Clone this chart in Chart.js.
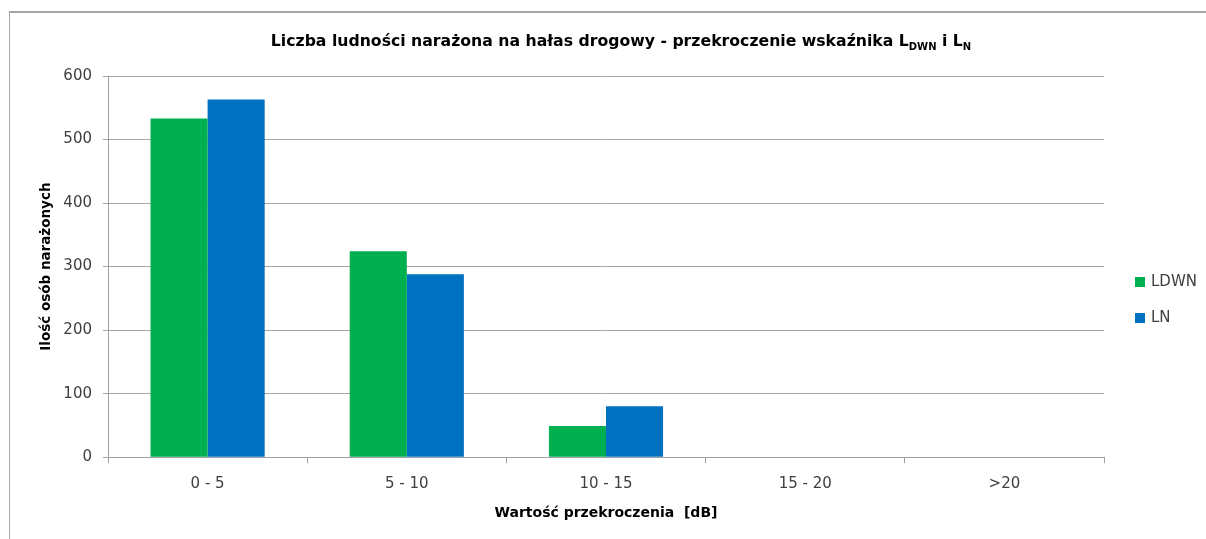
<!DOCTYPE html>
<html lang="pl">
<head>
<meta charset="utf-8">
<title>Liczba ludności narażona na hałas drogowy</title>
<script src="https://cdn.jsdelivr.net/npm/chart.js@4/dist/chart.umd.min.js"></script>
<style>
  html, body { margin: 0; padding: 0; background: #fff; }
  #wrap { position: relative; width: 1206px; height: 539px; overflow: hidden; }
  #frame { position: absolute; left: 9px; top: 11px; right: -5px; bottom: -5px;
           border-top: 2px solid #a6a6a6; border-left: 1px solid #a6a6a6; }
  #wykres { position: absolute; left: 0; top: 0; }
</style>
</head>
<body>
<div id="wrap">
  <div id="frame"></div>
  <canvas id="wykres" width="1206" height="539"></canvas>
</div>
<script>
// Dane wykresu
const kategorie = ['0 - 5', '5 - 10', '10 - 15', '15 - 20', '>20'];
const wartosciLDWN = [533, 324, 49, 0, 0];
const wartosciLN = [563, 288, 80, 0, 0];
const osY = { min: 0, max: 600, krok: 100 };

const FONT = '"DejaVu Sans", Verdana, sans-serif';

// Tytuł z indeksami dolnymi (L_DWN, L_N)
const tytulPlugin = {
    id: 'tytulZIndeksami',
    afterDraw(chart) {
        const c = chart.ctx;
        const czesci = [
            { t: 'Liczba ludności narażona na hałas drogowy - przekroczenie wskaźnika L' },
            { t: 'DWN', sub: true },
            { t: ' i L' },
            { t: 'N', sub: true }
        ];
        const fNorm = 'bold 15.7px ' + FONT;
        const fSub = 'bold 10px ' + FONT;
        c.save();
        let szer = 0;
        czesci.forEach(p => { c.font = p.sub ? fSub : fNorm; szer += c.measureText(p.t).width; });
        let x = 621 - szer / 2;
        const y = 42;
        c.fillStyle = '#000';
        c.textBaseline = 'middle';
        czesci.forEach(p => {
            c.font = p.sub ? fSub : fNorm;
            c.fillText(p.t, x, p.sub ? y + 5 : y);
            x += c.measureText(p.t).width;
        });
        c.restore();
    }
};

// Legenda po prawej stronie
const legendaPlugin = {
    id: 'legendaBoczna',
    afterDraw(chart) {
        const c = chart.ctx;
        c.save();
        c.font = '15px ' + FONT;
        c.textBaseline = 'middle';
        chart.data.datasets.forEach((ds, i) => {
            const y = 282 + i * 36;
            c.fillStyle = ds.backgroundColor;
            c.fillRect(1135, y - 5, 10, 10);
            c.fillStyle = '#404040';
            c.fillText(ds.label, 1151, y);
        });
        c.restore();
    }
};

const ctx = document.getElementById('wykres').getContext('2d');

new Chart(ctx, {
    type: 'bar',
    data: {
        labels: kategorie,
        datasets: [
            { label: 'LDWN', data: wartosciLDWN, backgroundColor: '#00b050', borderWidth: 0 },
            { label: 'LN', data: wartosciLN, backgroundColor: '#0070c0', borderWidth: 0 }
        ]
    },
    options: {
        responsive: false,
        animation: false,
        events: [],
        layout: { padding: { left: 38, right: 102, top: 76, bottom: 17 } },
        datasets: { bar: { categoryPercentage: 0.573, barPercentage: 1.0 } },
        scales: {
            x: {
                grid: {
                    display: true,
                    drawOnChartArea: false,
                    drawTicks: true,
                    tickLength: 6,
                    color: '#a0a0a0'
                },
                border: { color: '#a0a0a0', width: 1 },
                ticks: { color: '#404040', font: { family: FONT, size: 15 }, padding: 12 },
                title: {
                    display: true,
                    text: 'Wartość przekroczenia  [dB]',
                    color: '#000',
                    font: { family: FONT, size: 14, weight: 'bold' },
                    padding: { top: 0, bottom: 0 }
                }
            },
            y: {
                min: osY.min,
                max: osY.max,
                grid: { color: '#a6a6a6', tickLength: 5 },
                border: { color: '#a0a0a0', width: 1 },
                ticks: { stepSize: osY.krok, color: '#404040', font: { family: FONT, size: 15 }, padding: 11 },
                title: {
                    display: true,
                    text: 'Ilość osób narażonych',
                    color: '#000',
                    font: { family: FONT, size: 13.5, weight: 'bold' },
                    padding: { top: 0, bottom: 10 }
                },
                afterFit(scale) { scale.width = 70; }
            }
        },
        plugins: {
            legend: { display: false },
            tooltip: { enabled: false }
        }
    },
    plugins: [tytulPlugin, legendaPlugin]
});
</script>
</body>
</html>
